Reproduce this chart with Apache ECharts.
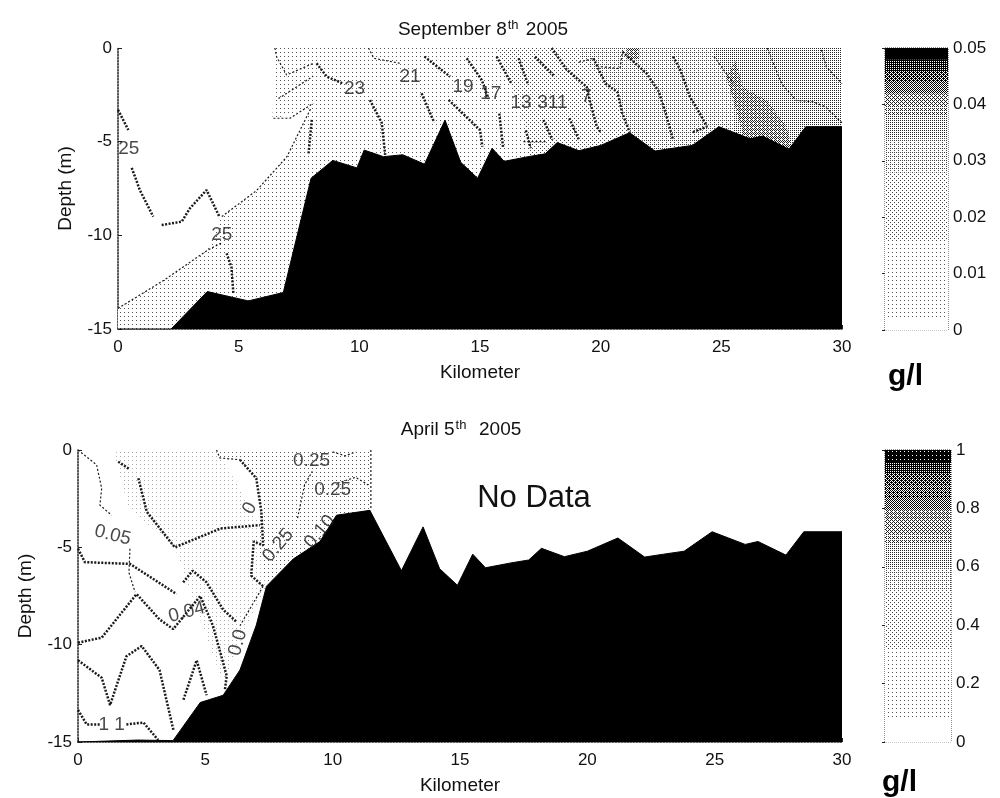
<!DOCTYPE html>
<html><head><meta charset="utf-8">
<style>html,body{margin:0;padding:0;background:#fff}#c{width:1000px;height:798px}</style>
<script src="https://cdn.jsdelivr.net/npm/echarts@6/dist/echarts.min.js"></script>
</head><body><div id="c"></div>
<script>
var xTicks = [0,5,10,15,20,25,30];
var bathyTop = [[0,-15],[2.2,-15],[3.7,-13],[5.4,-13.5],[6.85,-13.05],[8,-6.95],[8.9,-6],[9.9,-6.4],[10.2,-5.45],[11,-5.8],[11.8,-5.7],[12.7,-6.2],[13.55,-3.85],[14.2,-6.1],[14.9,-6.95],[15.5,-5.35],[16,-6.05],[17,-5.8],[17.7,-5.65],[18.2,-5.05],[19.1,-5.48],[20,-5.2],[21.2,-4.52],[22.25,-5.5],[23,-5.35],[23.8,-5.2],[24.9,-4.2],[26.2,-4.85],[26.7,-4.7],[27.8,-5.4],[28.5,-4.2],[30,-4.2]];
var bathyBottom = [[0,-15],[2.35,-14.9],[3.73,-14.93],[4.8,-12.97],[5.7,-12.6],[6.36,-11.3],[7,-9],[7.4,-7],[8.45,-5.6],[9.5,-4.7],[10.15,-3.35],[11.46,-3.1],[12.7,-6.2],[13.55,-3.95],[14.2,-6.1],[14.9,-6.95],[15.5,-5.35],[16,-6.05],[17,-5.8],[17.7,-5.65],[18.2,-5.05],[19.1,-5.48],[20,-5.2],[21.2,-4.52],[22.25,-5.5],[23,-5.35],[23.8,-5.2],[24.9,-4.2],[26.2,-4.85],[26.7,-4.7],[27.8,-5.4],[28.5,-4.2],[30,-4.2]];

var regionsTop = [
  {shade:1, pts:[[0,-13.9],[1.9,-12.4],[3.7,-10.8],[4.3,-9],[5.75,-7.6],[7,-5.8],[8,-3.2],[6.4,-3.8],[6.5,0],[30,0],[30,-15],[0,-15]]},
  {shade:2, pts:[[15.7,0],[16.3,-1.9],[16.9,-4.4],[17.1,-6],[30,-6],[30,0]]},
  {shade:3, pts:[[19.1,-0.4],[20.2,-1.9],[20.7,-2.36],[20.9,-3.5],[21.2,-4.5],[21.3,-6],[30,-6],[30,0],[19.1,0]]},
  {shade:4, pts:[[24.7,0],[24.7,-0.46],[25.5,-1.9],[25.5,-6],[30,-6],[30,0]]},
  {shade:7, pts:[[25.6,-0.7],[25.9,-2.1],[26.9,-2.8],[27.7,-4.2],[28,-5.6],[26,-5],[25.5,-2.8],[25.2,-1.5]]},
  {shade:7, pts:[[21.1,0],[21.6,0],[21.6,-0.6],[21.1,-0.6]]}
];
var regionsBottom = [
  {shade:0.5, pts:[[1.5,0],[5.5,0],[7.2,-4],[7.4,-7],[6.3,-10],[5.7,-12],[3.8,-5],[2,-3],[1.5,-0.6]]},
  {shade:1, pts:[[5.44,0],[11.5,0],[11.5,-3.1],[8.5,-5.6],[7.4,-7],[7,-4.5],[7.2,-3],[7,-1.4],[6.3,-0.5],[5.6,-0.4]]}
];

var thickTop = [
  [[0,-3.3],[0.43,-4.38]],
  [[0.57,-6.4],[0.91,-7.6],[1.46,-9]],
  [[1.81,-9.45],[2.64,-9.27],[2.98,-8.56],[3.67,-7.58],[4.2,-9]],
  [[4.5,-10.96],[4.7,-11.7],[4.78,-13.1]],
  [[8.23,-0.82],[8.65,-1.53],[9.34,-1.9]],
  [[10.44,-2.78],[10.93,-4],[11.07,-5.7]],
  [[8.03,-3.84],[7.89,-5.7]],
  [[12.58,-2.42],[13.1,-3.97]],
  [[12.7,-0.46],[13.76,-1.53]],
  [[14.45,-0.55],[15.07,-1.7],[15.35,-2.7]],
  [[13.7,-2.77],[15,-4.38],[15.1,-5.27]],
  [[15.69,-0.46],[16.3,-1.9]],
  [[16.6,-0.55],[17,-1.97]],
  [[17.28,-0.46],[18.1,-1.53]],
  [[17.97,0],[18.6,-1.17],[19.42,-2.07],[19.56,-2.87],[19.84,-4.2],[20,-4.5]],
  [[19.7,-0.55],[20.2,-1.9],[20.7,-2.36],[20.9,-3.5],[21.2,-4.5]],
  [[20.9,-0.2],[21.9,-1.35],[22.4,-2.3],[22.7,-3.5],[23,-4.9]],
  [[23,-0.46],[23.3,-1.17],[23.7,-2.6],[24.2,-3.7],[24.4,-4.2],[23.8,-4.5]],
  [[18.7,-3.75],[19.1,-4.9]],
  [[17.63,-3.84],[18,-4.9]],
  [[16.9,-4.4],[17.1,-5.35]],
  [[15.8,-3.5],[15.96,-5.35]]
];
var thinTop = [
  [[0,-13.9],[1.9,-12.4],[3.7,-10.8],[4.3,-10.4]],
  [[4.3,-9],[5.75,-7.6],[7,-5.8],[8,-3.2]],
  [[6.5,0],[6.57,-0.46],[6.99,-1.44],[8.09,-0.82]],
  [[6.65,-2.7],[8.09,-1.5]],
  [[6.44,-3.75],[7.13,-3.75],[8.09,-2.95]],
  [[10.38,0],[10.6,-0.55],[11.7,-0.82]],
  [[19.1,-0.75],[19.7,-0.55]],
  [[20,-1],[20.8,-1.1],[20.9,-0.2]],
  [[24.7,-0.46],[25.5,-1.9]],
  [[26.9,0],[27.5,-1.9],[28.1,-2.8],[28.8,-2.87],[29.3,-3.13],[30,-4]],
  [[29.15,-0.1],[29.35,-1],[30,-1.9]],
  [[16.8,-5],[17.77,-5]]
];
var thickBottom = [
  [[1.58,-0.6],[2.04,-1]],
  [[2.37,-1.45],[2.7,-3.17],[3.8,-5],[5.6,-4.03],[7.14,-3.86]],
  [[6.36,-0.5],[7,-1.45],[7.2,-3.17],[7.27,-4.9],[6.9,-4.7],[6.8,-6.45],[7.27,-7]],
  [[0,-5.07],[0.27,-5.76],[2.04,-5.85],[3.87,-7.4]],
  [[0,-9.9],[0.93,-9.64],[2.3,-7.4],[3.2,-8.7],[3.74,-9.2],[4.8,-7.5],[5.3,-9.03],[5.84,-11.6],[5.77,-12.3]],
  [[4.13,-6.8],[4.5,-6.2],[5.05,-6.8],[5.7,-8.2],[6.2,-8.8]],
  [[0,-10.8],[0.93,-11.7],[1.26,-13.1],[1.9,-10.6],[2.5,-10.07],[3.2,-11.3],[3.75,-14.4]],
  [[4.14,-12.83],[4.66,-10.8],[5.05,-12.6]],
  [[0,-13.35],[0.34,-14.1],[0.9,-14.1]],
  [[1.9,-14.1],[2.57,-14],[3.15,-14.9]]
];
var thinBottom = [
  [[0,0],[0.73,-0.76],[0.93,-1.97],[0.86,-2.83],[1.32,-3.35]],
  [[5.44,0],[5.57,-0.41],[6.36,-0.5]],
  [[2.04,-5.07],[2,-6.3],[2.24,-7.3]],
  [[8.62,-3.5],[8.9,-1.78],[9.2,-1.1]],
  [[7.27,-7],[6.36,-9.03]],
  [[11.5,0],[11.5,-3.1]],
  [[10,-0.1],[10.5,-0.3],[10.9,-0.1]],
  [[10.2,-1.7],[10.9,-1.4],[11.4,-1.8]]
];

var labelsTop = [
  {value:[0.45,-5.4], text:'25', rot:0},
  {value:[4.3,-9.98], text:'25', rot:0},
  {value:[9.8,-2.15], text:'23', rot:0},
  {value:[12.1,-1.55], text:'21', rot:0},
  {value:[14.3,-2.07], text:'19', rot:0},
  {value:[15.45,-2.45], text:'17', rot:0},
  {value:[16.7,-2.95], text:'13', rot:0},
  {value:[18,-2.9], text:'311', rot:0},
  {value:[19.4,-2.6], text:'7', rot:0}
];
var labelsBottom = [
  {value:[1.36,-4.38], text:'0.05', rot:-14},
  {value:[9.17,-0.55], text:'0.25', rot:0},
  {value:[10,-2.05], text:'0.25', rot:0},
  {value:[7.86,-4.9], text:'0.25', rot:50},
  {value:[4.27,-8.34], text:'0.04', rot:15},
  {value:[1.32,-14.1], text:'1 1', rot:0},
  {value:[9.5,-4.2], text:'0.10', rot:50},
  {value:[6.75,-3], text:'0', rot:60},
  {value:[6.28,-9.9], text:'0.0', rot:75}
];

var cbarTopTicks = [0,0.01,0.02,0.03,0.04,0.05];
var cbarBottomTicks = [0,0.2,0.4,0.6,0.8,1];
var cbarTopShades = [0,1,1,1,1, 1,1,1,2,2, 2,2,2,2,3, 3,3,4,4,5, 6,8,10,12,16];
var cbarBottomShades = [0,0,1,1,1, 1,1,1,2,2, 2,2,2,3,3, 4,4,5,6,7, 8,9,10,12,15];
var kmLabel = 'Kilometer', depthLabel = 'Depth (m)', noData = 'No Data', unit = 'g/l';

var FONT = '"Liberation Sans", Arial, sans-serif', INK = '#111';
var bayer = [[0,8,2,10],[12,4,14,6],[3,11,1,9],[15,7,13,5]];
var cache = {};
function dither(shade){
  if (shade <= 0) return '#fff';
  if (shade >= 16) return '#000';
  if (cache[shade]) return cache[shade];
  var cv = document.createElement('canvas'); cv.width = cv.height = 4;
  var g = cv.getContext('2d');
  g.fillStyle = '#fff'; g.fillRect(0,0,4,4);
  g.fillStyle = shade < 1 ? '#aaa' : shade < 2 ? '#555' : shade < 4 ? '#444' : shade < 8 ? '#222' : '#000';
  for (var y=0;y<4;y++) for (var x=0;x<4;x++) if (bayer[y][x] < shade) g.fillRect(x,y,1,1);
  return cache[shade] = {image: cv, repeat: 'repeat'};
}
function regionSeries(list, idx){
  return {type:'custom', xAxisIndex:idx, yAxisIndex:idx, z:1, silent:true, data:list.map(function(_,i){return [i];}),
    encode:{x:[],y:[]},
    renderItem:function(params, api){
      var r = list[params.dataIndex];
      return {type:'polygon', shape:{points:r.pts.map(function(p){return api.coord(p);})}, style:{fill:dither(r.shade)}};
    }};
}
function bathySeries(d, idx){
  return {type:'line', xAxisIndex:idx, yAxisIndex:idx, data:d, z:3, symbol:'none', silent:true,
    lineStyle:{color:'#000',width:1}, itemStyle:{color:'#000'}, areaStyle:{color:'#000',opacity:1,origin:'start'}};
}
function contourSeries(lines, idx, thick){
  return lines.map(function(l){
    return {type:'line', xAxisIndex:idx, yAxisIndex:idx, data:l, z:2, symbol:'none', silent:true,
      lineStyle:{color:'#1a1a1a', width:thick?2.5:1.2, type:thick?[2,1.5]:[2,2]}};
  });
}
function labelSeries(list, idx, size){
  return {type:'scatter', xAxisIndex:idx, yAxisIndex:idx, z:4, symbolSize:0, silent:true,
    data:list.map(function(l){
      return {value:l.value, label:{show:true, position:'inside', formatter:l.text, rotate:l.rot,
        fontFamily:FONT, fontSize:size, color:'#1a1a1a', fontStyle:'normal'}};
    })};
}
function cbarSeries(idx, ticks, shades){
  var top = ticks[ticks.length-1], n = shades.length;
  return {type:'custom', xAxisIndex:idx, yAxisIndex:idx, z:1, silent:true, data:shades.map(function(s,i){return [i];}),
    encode:{x:[],y:[]},
    renderItem:function(params, api){
      var i = params.dataIndex;
      var a = api.coord([0, top*i/n]), b = api.coord([1, top*(i+1)/n]);
      return {type:'rect', shape:{x:a[0], y:b[1], width:b[0]-a[0], height:a[1]-b[1]+0.5}, style:{fill:dither(shades[i])}};
    }};
}
function xAxisFor(g){
  return {gridIndex:g, type:'value', min:0, max:30, interval:5, name:kmLabel, nameLocation:'middle', nameGap:34,
    nameTextStyle:{fontFamily:FONT,fontSize:19,color:INK},
    axisLine:{show:true,onZero:false,lineStyle:{color:'#222',type:'dotted',width:1.5}},
    axisTick:{show:true,inside:true,length:4,lineStyle:{color:'#222'}},
    axisLabel:{fontFamily:FONT,fontSize:17,color:INK,margin:10,showMinLabel:true,showMaxLabel:true}, splitLine:{show:false}};
}
function yAxisFor(g){
  return {gridIndex:g, type:'value', min:-15, max:0, interval:5, name:depthLabel, nameLocation:'middle', nameGap:43,
    nameTextStyle:{fontFamily:FONT,fontSize:19,color:INK},
    axisLine:{show:true,onZero:false,lineStyle:{color:'#222',type:'dotted',width:1.5}},
    axisTick:{show:true,inside:true,length:4,lineStyle:{color:'#222'}},
    axisLabel:{fontFamily:FONT,fontSize:17,color:INK,margin:6,showMinLabel:true,showMaxLabel:true}, splitLine:{show:false}};
}
function cbarX(g){ return {gridIndex:g,type:'value',min:0,max:1,show:false}; }
function cbarY(g, ticks){
  return {gridIndex:g,type:'value',position:'right',min:0,max:ticks[ticks.length-1],interval:ticks[1],
    axisLine:{show:true,lineStyle:{color:'#222',type:'dotted'}},
    axisTick:{show:true,inside:true,length:3,lineStyle:{color:'#222'}},
    axisLabel:{fontFamily:FONT,fontSize:17,color:INK,margin:5,showMinLabel:true,showMaxLabel:true}, splitLine:{show:false}};
}
function titleRich(){ return {a:{fontFamily:FONT,fontSize:19,fontWeight:'normal',color:INK}, s:{fontFamily:FONT,fontSize:13,fontWeight:'normal',color:INK,verticalAlign:'top',padding:[0,2,8,1]}}; }

var option = {
  backgroundColor:'#fff', animation:false,
  title:[
    {text:'{a|September 8}{s|th}{a| 2005}', left:478, top:14, textAlign:'center', textStyle:{rich:titleRich()}},
    {text:'{a|April 5}{s|th}{a|  2005}', left:456, top:414, textAlign:'center', textStyle:{rich:titleRich()}},
    {text:noData, left:529, top:478, textAlign:'center', textStyle:{fontFamily:FONT,fontSize:31,fontWeight:'normal',color:'#111'}},
    {text:unit, left:883, top:357, textStyle:{fontFamily:FONT,fontSize:30,fontWeight:'bold',color:'#000'}},
    {text:unit, left:877, top:763, textStyle:{fontFamily:FONT,fontSize:30,fontWeight:'bold',color:'#000'}}
  ],
  grid:[
    {left:118,top:48,width:724,height:281},
    {left:78,top:450,width:764,height:292},
    {left:885,top:48,width:63,height:282,show:true,borderColor:'#222',borderType:'dotted',borderWidth:1,backgroundColor:'#fff'},
    {left:885,top:450,width:66,height:292,show:true,borderColor:'#222',borderType:'dotted',borderWidth:1,backgroundColor:'#fff'}
  ],
  xAxis:[xAxisFor(0),xAxisFor(1),cbarX(2),cbarX(3)],
  yAxis:[yAxisFor(0),yAxisFor(1),cbarY(2,cbarTopTicks),cbarY(3,cbarBottomTicks)],
  series:[].concat(
    [regionSeries(regionsTop,0), regionSeries(regionsBottom,1)],
    contourSeries(thickTop,0,true), contourSeries(thinTop,0,false),
    contourSeries(thickBottom,1,true), contourSeries(thinBottom,1,false),
    [bathySeries(bathyTop,0), bathySeries(bathyBottom,1),
     labelSeries(labelsTop,0,19), labelSeries(labelsBottom,1,19),
     cbarSeries(2,cbarTopTicks,cbarTopShades), cbarSeries(3,cbarBottomTicks,cbarBottomShades)]
  )
};
echarts.init(document.getElementById('c'),null,{renderer:'canvas'}).setOption(option);
</script></body></html>
